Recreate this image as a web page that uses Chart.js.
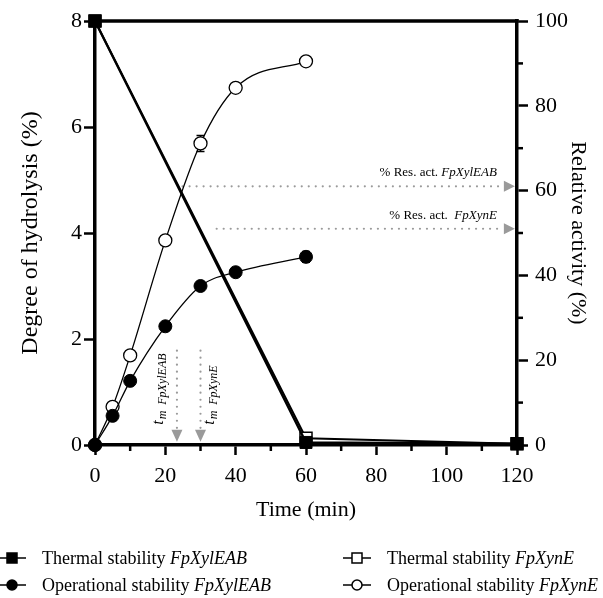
<!DOCTYPE html>
<html><head><meta charset="utf-8">
<script src="https://cdn.jsdelivr.net/npm/chart.js@4/dist/chart.umd.min.js"></script>
<style>html,body{margin:0;padding:0;background:#fff;}</style>
</head><body>
<canvas id="c" width="603" height="598"></canvas>
<script>
// ---- data ----
const timeOp = [0, 5, 10, 20, 30, 40, 60];
const opXylEAB = [0, 0.55, 1.21, 2.24, 3.0, 3.26, 3.55];
const opXylEABErr = [0, 0, 0, 0, 0.08, 0, 0.1];
const opXynE = [0, 0.72, 1.69, 3.86, 5.69, 6.74, 7.24];
const opXynEErr = [0, 0, 0, 0, 0.15, 0, 0];
const timeTh = [0, 60, 120];
const thXylEAB = [100, 0.6, 0.3];
const thXynE = [100, 1.6, 0.3];
const xTicks = [0, 20, 40, 60, 80, 100, 120];
const yLeftTicks = [0, 2, 4, 6, 8];
const yRightTicks = [0, 20, 40, 60, 80, 100];
// annotations (values in data units)
const resLevels = [61, 51];          // % relative activity
const resFrom = [24.9, 34.6];        // min
const resTo = 119.4;                 // min
const resLabels = [[['% Res. act. ', false], ['FpXylEAB', true]], [['% Res. act.  ', false], ['FpXynE', true]]];
const tmTimes = [23.3, 30];          // min
const tmTop = 1.78, tmTip = 0.06;    // degree of hydrolysis
const tmNames = ['FpXylEAB', 'FpXynE'];
const legendItems = [
  {text: [['Thermal stability ', false], ['FpXylEAB', true]], shape: 'rect', fill: true},
  {text: [['Thermal stability ', false], ['FpXynE', true]], shape: 'rect', fill: false},
  {text: [['Operational stability ', false], ['FpXylEAB', true]], shape: 'circle', fill: true},
  {text: [['Operational stability ', false], ['FpXynE', true]], shape: 'circle', fill: false}
];

const SERIF = '"Liberation Serif", "Times New Roman", serif';
const toXY = (xs, ys) => xs.map((x, i) => ({x, y: ys[i]}));

function richWidth(ctx, parts, size) {
  let w = 0;
  for (const [t, it] of parts) { ctx.font = (it ? 'italic ' : '') + size + 'px ' + SERIF; w += ctx.measureText(t).width; }
  return w;
}
function drawRich(ctx, parts, x, y, size, align) {
  let cx = align === 'right' ? x - richWidth(ctx, parts, size) : x;
  ctx.textBaseline = 'alphabetic'; ctx.textAlign = 'left'; ctx.fillStyle = '#000';
  for (const [t, it] of parts) {
    ctx.font = (it ? 'italic ' : '') + size + 'px ' + SERIF;
    ctx.fillText(t, cx, y); cx += ctx.measureText(t).width;
  }
}
function dotted(ctx, x1, y1, x2, y2) {
  ctx.save(); ctx.strokeStyle = '#9a9a9a'; ctx.lineWidth = 2.2; ctx.lineCap = 'round';
  ctx.setLineDash([0.01, 7]); ctx.beginPath(); ctx.moveTo(x1, y1); ctx.lineTo(x2, y2); ctx.stroke(); ctx.restore();
}

const decor = {
  id: 'decor',
  beforeDatasetsDraw(chart) {
    const ctx = chart.ctx, x = chart.scales.x, yl = chart.scales.y, yr = chart.scales.y2;
    ctx.save();
    // horizontal residual activity arrows
    resLevels.forEach((lv, i) => {
      const py = yr.getPixelForValue(lv), tip = x.getPixelForValue(resTo);
      dotted(ctx, x.getPixelForValue(resFrom[i]), py, tip - 13, py);
      ctx.fillStyle = '#9a9a9a'; ctx.beginPath();
      ctx.moveTo(tip, py); ctx.lineTo(tip - 11, py - 5.5); ctx.lineTo(tip - 11, py + 5.5); ctx.closePath(); ctx.fill();
      drawRich(ctx, resLabels[i], tip - 18, py - 10, 13, 'right');
    });
    // vertical t_m arrows
    tmTimes.forEach((t, i) => {
      const px = x.getPixelForValue(t), top = yl.getPixelForValue(tmTop), tip = yl.getPixelForValue(tmTip);
      dotted(ctx, px, top, px, tip - 14);
      ctx.fillStyle = '#9a9a9a'; ctx.beginPath();
      ctx.moveTo(px, tip); ctx.lineTo(px - 5.5, tip - 12); ctx.lineTo(px + 5.5, tip - 12); ctx.closePath(); ctx.fill();
      ctx.save();
      const lx = i === 0 ? px - 14 : px + 13;
      ctx.translate(lx, tip - 17); ctx.rotate(-Math.PI / 2);
      ctx.fillStyle = '#000'; ctx.textAlign = 'left'; ctx.textBaseline = 'alphabetic';
      ctx.font = 'italic 16px ' + SERIF; ctx.fillText('t', 0, 0);
      const tw = ctx.measureText('t').width;
      ctx.font = 'italic 12px ' + SERIF; ctx.fillText('m  ' + tmNames[i], tw + 1, 3);
      ctx.restore();
    });
    // error bars
    const errs = [[opXylEAB, opXylEABErr], [opXynE, opXynEErr]];
    ctx.strokeStyle = '#000'; ctx.lineWidth = 1.5;
    errs.forEach(([vals, e]) => {
      timeOp.forEach((t, i) => {
        if (!e[i]) return;
        const px = x.getPixelForValue(t), p1 = yl.getPixelForValue(vals[i] + e[i]), p2 = yl.getPixelForValue(vals[i] - e[i]);
        ctx.beginPath(); ctx.moveTo(px, p1); ctx.lineTo(px, p2);
        ctx.moveTo(px - 4, p1); ctx.lineTo(px + 4, p1); ctx.moveTo(px - 4, p2); ctx.lineTo(px + 4, p2); ctx.stroke();
      });
    });
    ctx.restore();
  },
  afterDraw(chart) {
    const ctx = chart.ctx, a = chart.chartArea, x = chart.scales.x, yr = chart.scales.y2;
    ctx.save();
    // top frame line
    ctx.strokeStyle = '#000'; ctx.lineWidth = 3.5; ctx.lineCap = 'square';
    ctx.beginPath(); ctx.moveTo(a.left, a.top); ctx.lineTo(a.right, a.top); ctx.stroke();
    // minor ticks
    ctx.lineWidth = 2.5; ctx.lineCap = 'butt';
    for (let v = 10; v < 120; v += 20) { const px = x.getPixelForValue(v); ctx.beginPath(); ctx.moveTo(px, a.bottom); ctx.lineTo(px, a.bottom + 6); ctx.stroke(); }
    for (let v = 10; v < 100; v += 20) { const py = yr.getPixelForValue(v); ctx.beginPath(); ctx.moveTo(a.right, py); ctx.lineTo(a.right + 6, py); ctx.stroke(); }
    // legend
    const cols = [12, 357], rows = [558, 585];
    legendItems.forEach((it, i) => {
      const cx = cols[i % 2], cy = rows[Math.floor(i / 2)];
      ctx.strokeStyle = '#000'; ctx.lineWidth = 1.5;
      ctx.beginPath(); ctx.moveTo(cx - 14, cy); ctx.lineTo(cx + 14, cy); ctx.stroke();
      ctx.fillStyle = it.fill ? '#000' : '#fff';
      ctx.beginPath();
      if (it.shape === 'rect') ctx.rect(cx - 5, cy - 5, 10, 10); else ctx.arc(cx, cy, 5, 0, Math.PI * 2);
      ctx.fill(); ctx.stroke();
      drawRich(ctx, it.text, cx + 30, cy + 6, 18, 'left');
    });
    ctx.restore();
  }
};

const tickFont = {family: SERIF, size: 22};
new Chart(document.getElementById('c'), {
  type: 'line',
  data: {
    datasets: [
      {label: 'Thermal stability FpXylEAB', data: toXY(timeTh, thXylEAB), yAxisID: 'y2',
        borderColor: '#000', borderWidth: 2.4, tension: 0, pointStyle: 'rect', pointRadius: 8.5,
        pointBackgroundColor: '#000', pointBorderColor: '#000', pointBorderWidth: 1, clip: false},
      {label: 'Thermal stability FpXynE', data: toXY(timeTh, thXynE), yAxisID: 'y2',
        borderColor: '#000', borderWidth: 2, tension: 0, pointStyle: 'rect', pointRadius: 8.5,
        pointBackgroundColor: '#fff', pointBorderColor: '#000', pointBorderWidth: 1.5, clip: false},
      {label: 'Operational stability FpXylEAB', data: toXY(timeOp, opXylEAB), yAxisID: 'y',
        borderColor: '#000', borderWidth: 1.3, cubicInterpolationMode: 'monotone', pointStyle: 'circle', pointRadius: 6.5,
        pointBackgroundColor: '#000', pointBorderColor: '#000', pointBorderWidth: 1, clip: false},
      {label: 'Operational stability FpXynE', data: toXY(timeOp, opXynE), yAxisID: 'y',
        borderColor: '#000', borderWidth: 1.3, cubicInterpolationMode: 'monotone', pointStyle: 'circle', pointRadius: 6.5,
        pointBackgroundColor: '#fff', pointBorderColor: '#000', pointBorderWidth: 1.3, clip: false}
    ]
  },
  options: {
    responsive: false, animation: false, devicePixelRatio: 1,
    layout: {padding: {top: 21, left: 0, right: 0, bottom: 0}},
    plugins: {legend: {display: false}, tooltip: {enabled: false}},
    scales: {
      x: {type: 'linear', min: 0, max: 120, position: 'bottom',
        afterBuildTicks: s => { s.ticks = xTicks.map(v => ({value: v})); },
        afterFit: s => { s.height = 153; },
        ticks: {font: tickFont, color: '#000', padding: 8, maxRotation: 0},
        grid: {drawOnChartArea: false, drawTicks: true, tickLength: 10, tickWidth: 2.5, tickColor: '#000'},
        border: {display: true, color: '#000', width: 3.5},
        title: {display: true, text: 'Time (min)', color: '#000', font: {family: SERIF, size: 22, lineHeight: 1.2}, padding: {top: 0, bottom: 75}}},
      y: {type: 'linear', min: 0, max: 8, position: 'left',
        afterBuildTicks: s => { s.ticks = yLeftTicks.map(v => ({value: v})); },
        afterFit: s => { s.width = 95; },
        ticks: {font: tickFont, color: '#000', padding: 2},
        grid: {drawOnChartArea: false, drawTicks: true, tickLength: 11, tickWidth: 2.5, tickColor: '#000'},
        border: {display: true, color: '#000', width: 3.5},
        title: {display: true, text: 'Degree of hydrolysis (%)', color: '#000', font: {family: SERIF, size: 24, lineHeight: 1.2}, padding: {top: 16, bottom: 0}}},
      y2: {type: 'linear', min: 0, max: 100, position: 'right',
        afterBuildTicks: s => { s.ticks = yRightTicks.map(v => ({value: v})); },
        afterFit: s => { s.width = 86; },
        ticks: {font: tickFont, color: '#000', padding: 7},
        grid: {drawOnChartArea: false, drawTicks: true, tickLength: 11, tickWidth: 2.5, tickColor: '#000'},
        border: {display: true, color: '#000', width: 3.5},
        title: {display: true, text: 'Relative activity (%)', color: '#000', font: {family: SERIF, size: 22, lineHeight: 1.2}, padding: {top: 12, bottom: 0}}}
    }
  },
  plugins: [decor]
});
</script>
</body></html>
